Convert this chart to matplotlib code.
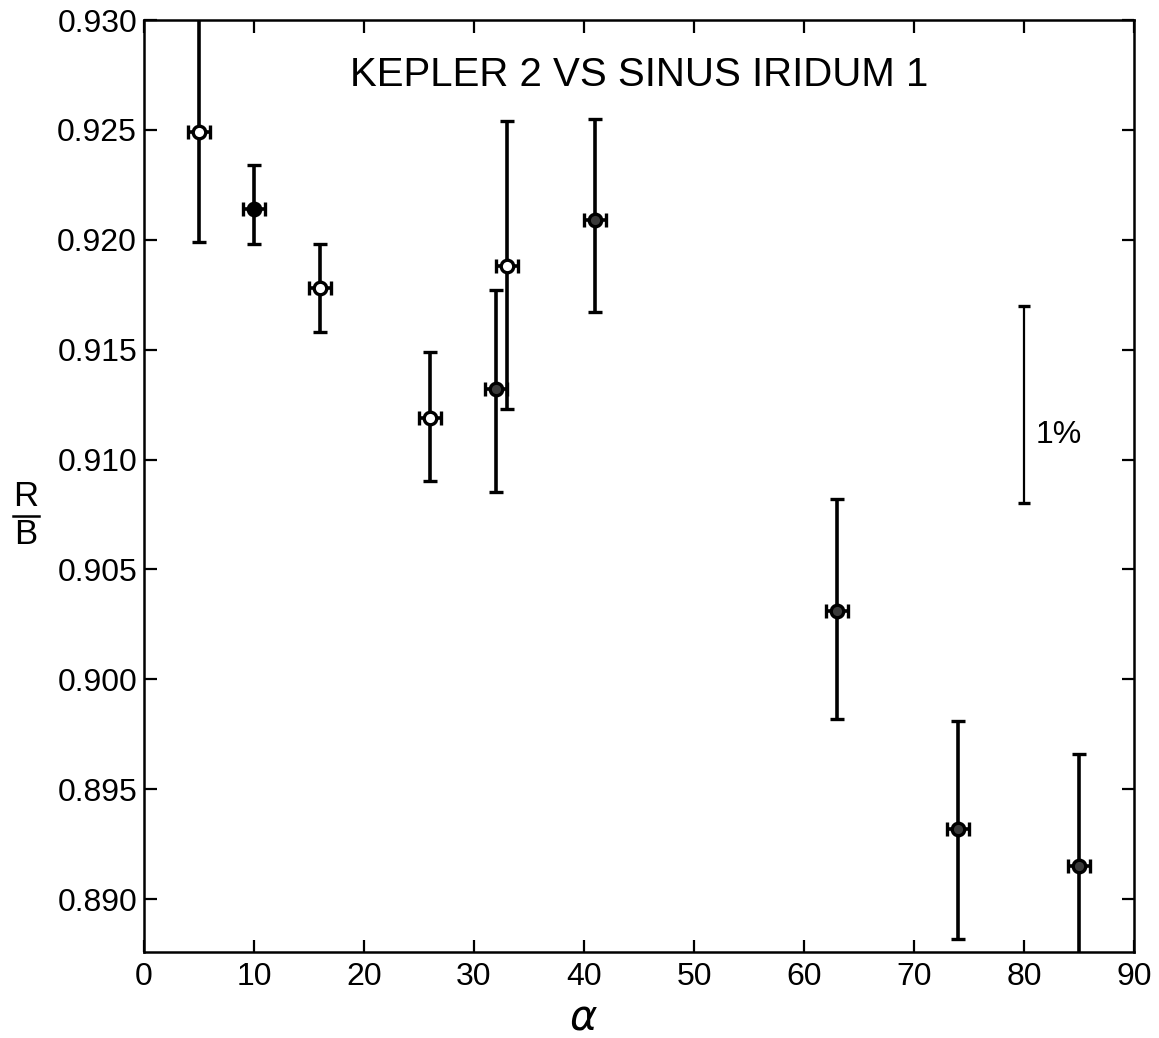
import matplotlib
matplotlib.use("Agg")
import matplotlib.pyplot as plt
from matplotlib.lines import Line2D

# ---- data ----
alpha = [5, 10, 16, 26, 32, 33, 41, 63, 74, 85]
ratio = [0.9249, 0.9214, 0.9178, 0.9119, 0.9132, 0.9188, 0.9209, 0.9031, 0.8932, 0.8915]
lower = [0.9199, 0.9198, 0.9158, 0.9090, 0.9085, 0.9123, 0.9167, 0.8982, 0.8882, 0.8865]
upper = [0.9302, 0.9234, 0.9198, 0.9149, 0.9177, 0.9254, 0.9255, 0.9082, 0.8981, 0.8966]
alpha_err = [1.0] * 10
marker_face = ["white", "black", "white", "white", "#3a3a3a", "white",
               "#3a3a3a", "#3a3a3a", "#3a3a3a", "#3a3a3a"]

scale_x = 80
scale_lo, scale_hi = 0.908, 0.917
scale_label = "1%"

title = "KEPLER 2 VS SINUS IRIDUM 1"
xticks = [0, 10, 20, 30, 40, 50, 60, 70, 80, 90]
yticks = [0.890, 0.895, 0.900, 0.905, 0.910, 0.915, 0.920, 0.925, 0.930]

plt.rcParams['font.family'] = ['Liberation Sans', 'DejaVu Sans']

fig = plt.figure(figsize=(11.59, 10.38), dpi=100)
ax = fig.add_axes([144/1159, 1-952/1038, (1134-144)/1159, (952-20)/1038])

for x, y, lo, hi, xe, fc in zip(alpha, ratio, lower, upper, alpha_err, marker_face):
    ax.errorbar([x], [y], yerr=[[y-lo], [hi-y]], xerr=[[xe], [xe]],
                fmt='o', ms=9, mfc=fc, mec='black', mew=2.4,
                ecolor='black', elinewidth=2.6, capsize=4.8, capthick=3.0,
                zorder=3)

# 1% scale bar
half = (scale_hi - scale_lo) / 2
ax.errorbar([scale_x], [scale_lo + half], yerr=[[half], [half]],
            fmt='none', ecolor='black', elinewidth=1.6, capsize=4, capthick=2.4)
ax.text(scale_x + 1.1, 0.9111, scale_label, fontsize=23, va='center', ha='left')

ax.text(45.0, 0.9275, title, fontsize=29, ha='center', va='center')

ax.set_xlim(0, 90)
ax.set_ylim(0.88759, 0.930)
ax.set_xticks(xticks)
ax.set_xticklabels([str(t) for t in xticks])
ax.set_yticks(yticks)
ax.set_yticklabels([f"{t:.3f}" for t in yticks])

ax.tick_params(direction='in', length=9, width=1.6, labelsize=23,
               top=True, right=True, labeltop=False, labelright=False)
ax.tick_params(axis='x', pad=7)
ax.tick_params(axis='y', pad=5)
for s in ax.spines.values():
    s.set_linewidth(1.8)

# R/B label as an upright fraction
fig.text(26/1159, 1-497/1038, "R", fontsize=25, ha='center', va='center')
fig.text(26/1159, 1-535/1038, "B", fontsize=25, ha='center', va='center')
fig.add_artist(Line2D([13/1159, 39/1159], [1-516/1038, 1-516/1038],
                      transform=fig.transFigure, color='black', lw=1.8))

fig.text(583/1159, 1-1018/1038, r'$\alpha$', fontsize=30, ha='center', va='center')

fig.savefig("out.png", dpi=100)
